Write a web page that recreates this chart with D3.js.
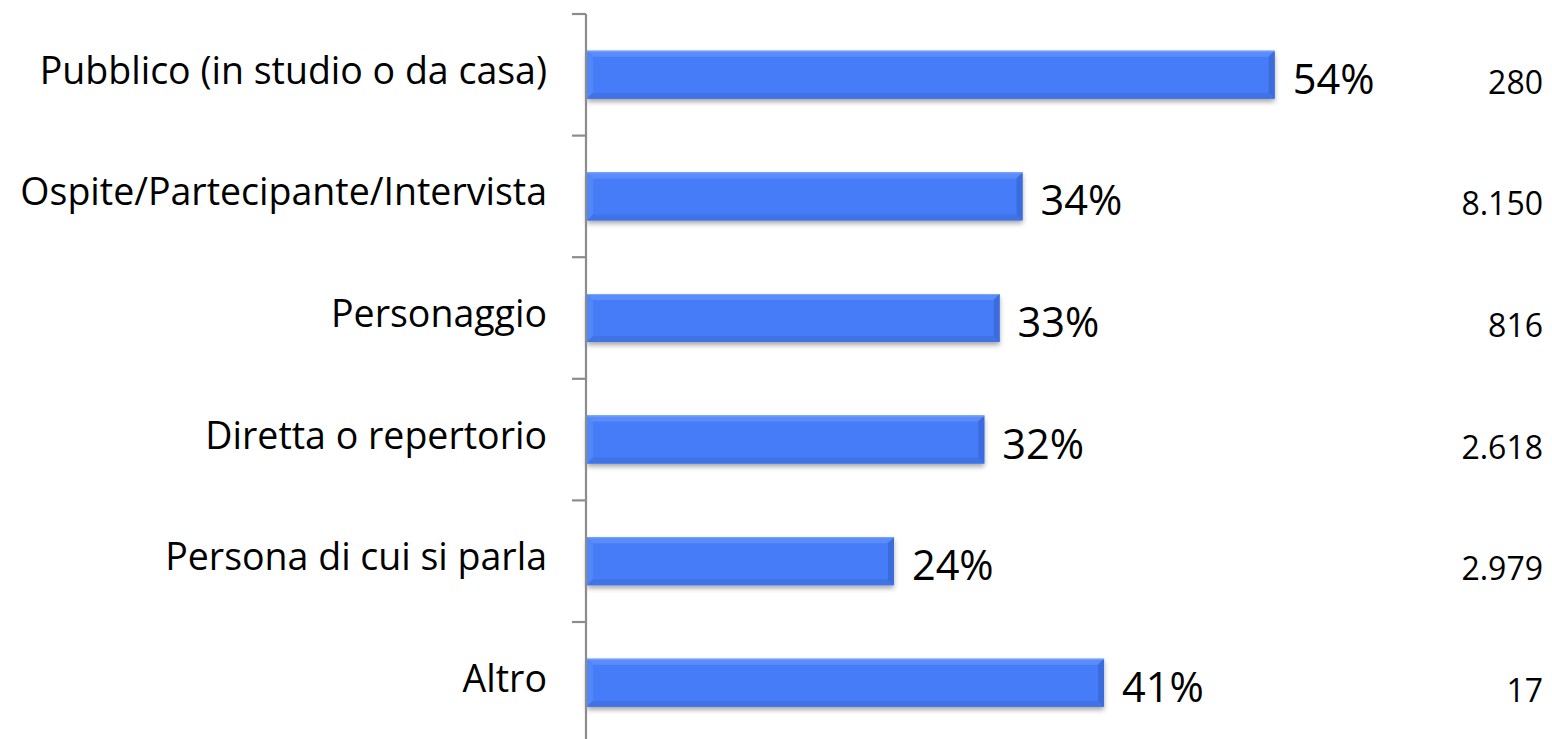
<!DOCTYPE html>
<html><head><meta charset="utf-8">
<script src="https://cdn.jsdelivr.net/npm/d3@7"></script>
<style>html,body{margin:0;padding:0;background:#fff;}svg{display:block;}</style>
</head><body>
<svg id="chart" width="1552" height="739"></svg>
<script>
const categories = ["Pubblico (in studio o da casa)", "Ospite/Partecipante/Intervista", "Personaggio", "Diretta o repertorio", "Persona di cui si parla", "Altro"];
const values = [54.0, 34.2, 32.4, 31.2, 24.1, 40.6];
const valueLabels = ["54%", "34%", "33%", "32%", "24%", "41%"];
const counts = ["280", "8.150", "816", "2.618", "2.979", "17"];

const svg = d3.select("#chart");
const font = "'Open Sans', sans-serif";

const y = d3.scaleBand().domain(categories).range([14, 743.6]).padding(0);
const x = d3.scaleLinear().domain([0, 100]).range([587, 1860.5]);

const defs = svg.append("defs");
const f = defs.append("filter").attr("id", "sh").attr("x", "-5%").attr("y", "-30%").attr("width", "110%").attr("height", "170%");
f.append("feDropShadow").attr("dx", 0).attr("dy", 3).attr("stdDeviation", 2.5).attr("flood-color", "#000").attr("flood-opacity", 0.35);

const barH = 48;
const bevel = 6;
const g = svg.append("g");
const bars = g.selectAll("g.bar").data(categories).join("g").attr("class", "bar");
bars.each(function(c, i) {
  const sel = d3.select(this);
  const x0 = x(0), x1 = x(values[i]);
  const y0 = y(c) + (y.bandwidth() - barH) / 2, y1 = y0 + barH;
  sel.append("rect").attr("x", x0).attr("y", y0).attr("width", x1 - x0).attr("height", barH)
    .attr("fill", "#467cf8").attr("filter", "url(#sh)");
  sel.append("polygon").attr("points", [[x0, y0], [x1, y0], [x1 - bevel, y0 + bevel], [x0 + bevel, y0 + bevel]].join(" ")).attr("fill", "#5a8cfa");
  sel.append("polygon").attr("points", [[x0, y0], [x0 + bevel, y0 + bevel], [x0 + bevel, y1 - bevel], [x0, y1]].join(" ")).attr("fill", "#5287f9");
  sel.append("polygon").attr("points", [[x0, y1], [x0 + bevel, y1 - bevel], [x1 - bevel, y1 - bevel], [x1, y1]].join(" ")).attr("fill", "#3f73e6");
  sel.append("polygon").attr("points", [[x1, y0], [x1, y1], [x1 - bevel, y1 - bevel], [x1 - bevel, y0 + bevel]].join(" ")).attr("fill", "#3b6cdc");
  sel.append("line").attr("x1", x0).attr("x2", x1).attr("y1", y0 + 0.5).attr("y2", y0 + 0.5).attr("stroke", "#7aa3fb").attr("stroke-width", 1);
});

const axis = d3.axisLeft(y).tickSize(0).tickFormat("");
const ag = svg.append("g").attr("transform", "translate(586,0)").call(axis);
ag.select(".domain").attr("stroke", "#8c8c8c").attr("stroke-width", 2.2).attr("d", "M0,14V743.6");
const tickYs = categories.map(c => y(c));
svg.append("g").selectAll("line").data(tickYs).join("line")
  .attr("x1", 572).attr("x2", 586).attr("y1", d => d).attr("y2", d => d)
  .attr("stroke", "#8c8c8c").attr("stroke-width", 2.2);

svg.append("g").selectAll("text").data(categories).join("text")
  .attr("x", 547).attr("y", c => y(c) + y.bandwidth() / 2 + 9)
  .attr("text-anchor", "end").attr("font-family", font).attr("font-size", 37.5).attr("fill", "#000")
  .text(c => c);

svg.append("g").selectAll("text").data(categories).join("text")
  .attr("x", (c, i) => x(values[i]) + 18).attr("y", c => y(c) + y.bandwidth() / 2 + 19)
  .attr("font-family", font).attr("font-size", 41.5).attr("fill", "#000")
  .text((c, i) => valueLabels[i]);

svg.append("g").selectAll("text").data(categories).join("text")
  .attr("x", 1543).attr("y", c => y(c) + y.bandwidth() / 2 + 19)
  .attr("text-anchor", "end").attr("font-family", font).attr("font-size", 32).attr("fill", "#000")
  .text((c, i) => counts[i]);
</script>
</body></html>
